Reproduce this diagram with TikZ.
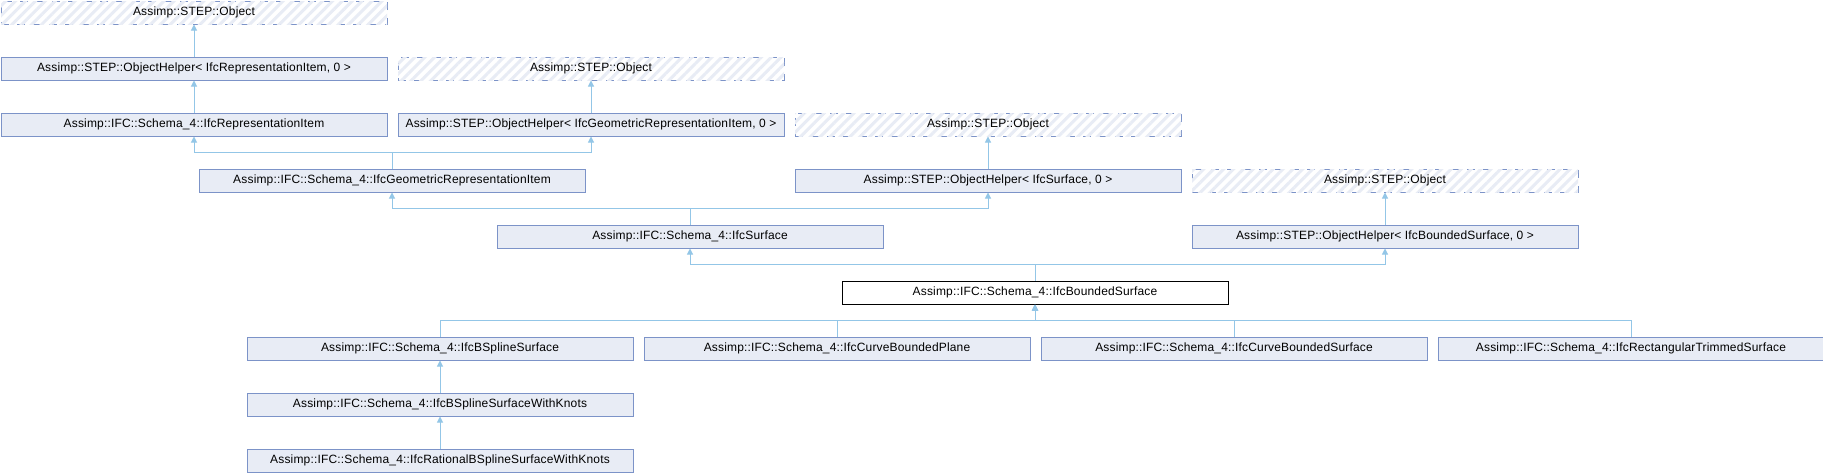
\documentclass[tikz,border=0pt]{standalone}
\usepackage{fontspec}
\setmainfont[LetterSpace=1.4]{Liberation Sans}
\usetikzlibrary{arrows.meta,patterns.meta}
\definecolor{boxfill}{HTML}{E8ECF5}
\definecolor{boxline}{HTML}{7C93C8}
\definecolor{edgecol}{HTML}{93C6E7}
\definecolor{hatchcol}{HTML}{E8ECF5}
\tikzset{
  cls/.style={draw=boxline, fill=boxfill, line width=1pt, minimum width=386pt, minimum height=23pt,
    inner sep=0pt, anchor=north west, font=\fontsize{12pt}{14pt}\selectfont},
  ext/.style={cls, fill=white, dash pattern=on 8pt off 8pt,
    postaction={pattern={Lines[angle=45,distance=7pt,line width=3pt]}, pattern color=hatchcol}},
  cur/.style={cls, draw=black, fill=white},
  edge/.style={draw=edgecol, line width=1pt, -{Triangle[length=6pt,width=6pt]}}
}
\begin{document}
\begin{tikzpicture}[x=1pt,y=-1pt]
\fill[white] (0,0) rectangle (1823,472);
\useasboundingbox (0,0) rectangle (1823,472);
% row 0
\node[ext] (objA) at (0.5,0.5) {Assimp::STEP::Object};
% row 1
\node[cls] (ohRep) at (0.5,56.5) {Assimp::STEP::ObjectHelper< IfcRepresentationItem, 0 >};
\node[ext] (objB) at (397.5,56.5) {Assimp::STEP::Object};
% row 2
\node[cls] (rep) at (0.5,112.5) {Assimp::IFC::Schema\_4::IfcRepresentationItem};
\node[cls] (ohGeo) at (397.5,112.5) {Assimp::STEP::ObjectHelper< IfcGeometricRepresentationItem, 0 >};
\node[ext] (objC) at (794.5,112.5) {Assimp::STEP::Object};
% row 3
\node[cls] (geo) at (198.5,168.5) {Assimp::IFC::Schema\_4::IfcGeometricRepresentationItem};
\node[cls] (ohSurf) at (794.5,168.5) {Assimp::STEP::ObjectHelper< IfcSurface, 0 >};
\node[ext] (objD) at (1191.5,168.5) {Assimp::STEP::Object};
% row 4
\node[cls] (surf) at (496.5,224.5) {Assimp::IFC::Schema\_4::IfcSurface};
\node[cls] (ohBnd) at (1191.5,224.5) {Assimp::STEP::ObjectHelper< IfcBoundedSurface, 0 >};
% row 5
\node[cur] (bnd) at (841.5,280.5) {Assimp::IFC::Schema\_4::IfcBoundedSurface};
% row 6
\node[cls] (bsp) at (246.5,336.5) {Assimp::IFC::Schema\_4::IfcBSplineSurface};
\node[cls] (cbp) at (643.5,336.5) {Assimp::IFC::Schema\_4::IfcCurveBoundedPlane};
\node[cls] (cbs) at (1040.5,336.5) {Assimp::IFC::Schema\_4::IfcCurveBoundedSurface};
\node[cls] (rts) at (1437.5,336.5) {Assimp::IFC::Schema\_4::IfcRectangularTrimmedSurface};
% row 7,8
\node[cls] (bspk) at (246.5,392.5) {Assimp::IFC::Schema\_4::IfcBSplineSurfaceWithKnots};
\node[cls] (rbsp) at (246.5,448.5) {Assimp::IFC::Schema\_4::IfcRationalBSplineSurfaceWithKnots};
% edges
\draw[edge] (ohRep.north) -- (objA.south);
\draw[edge] (rep.north) -- (ohRep.south);
\draw[edge] (ohGeo.north) -- (objB.south);
\draw[edge] (geo.north) -- ++(0,-16) -| (rep.south);
\draw[edge] (geo.north) -- ++(0,-16) -| (ohGeo.south);
\draw[edge] (ohSurf.north) -- (objC.south);
\draw[edge] (surf.north) -- ++(0,-16) -| (geo.south);
\draw[edge] (surf.north) -- ++(0,-16) -| (ohSurf.south);
\draw[edge] (ohBnd.north) -- (objD.south);
\draw[edge] (bnd.north) -- ++(0,-16) -| (surf.south);
\draw[edge] (bnd.north) -- ++(0,-16) -| (ohBnd.south);
\draw[edge] (bsp.north) -- ++(0,-16) -| (bnd.south);
\draw[edge] (cbp.north) -- ++(0,-16) -| (bnd.south);
\draw[edge] (cbs.north) -- ++(0,-16) -| (bnd.south);
\draw[edge] (rts.north) -- ++(0,-16) -| (bnd.south);
\draw[edge] (bspk.north) -- (bsp.south);
\draw[edge] (rbsp.north) -- (bspk.south);
\end{tikzpicture}
\end{document}
